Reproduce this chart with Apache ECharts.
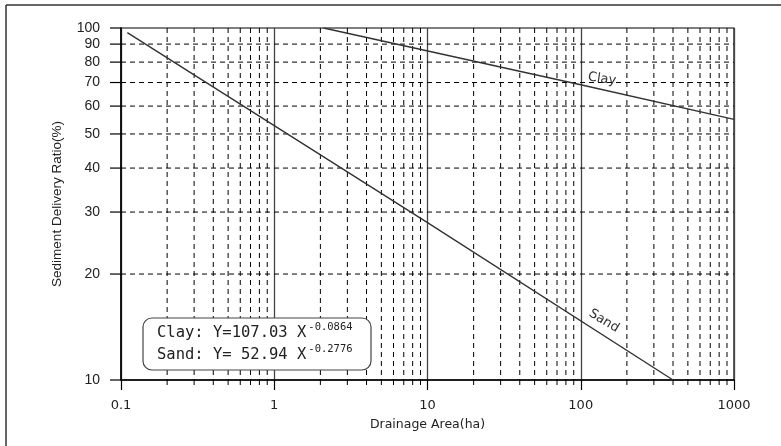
<!DOCTYPE html>
<html>
<head>
<meta charset="utf-8">
<script src="https://cdn.jsdelivr.net/npm/echarts@6/dist/echarts.min.js"></script>
<style>
html,body{margin:0;padding:0;background:#fff;}
#c{width:781px;height:446px;}
</style>
</head>
<body>
<div id="c"></div>
<script>
// ---- data ----
const clayPoints = [[2.1, 100], [100, 69], [1000, 55]];
const sandPoints = [[0.11, 97], [10, 28], [400, 10]];
const xMajorTicks = [0.1, 1, 10, 100, 1000];
const xMinorTicks = [0.2,0.3,0.4,0.5,0.6,0.7,0.8,0.9, 2,3,4,5,6,7,8,9, 20,30,40,50,60,70,80,90, 200,300,400,500,600,700,800,900];
const yTicks = [10, 20, 30, 40, 50, 60, 70, 80, 90, 100];
const xRange = [0.1, 1000];
const yRange = [10, 100];
const xAxisTitle = 'Drainage Area(ha)';
const yAxisTitle = 'Sediment Delivery Ratio(%)';
const clayLabel = 'Clay';
const sandLabel = 'Sand';
const eqClay = ['Clay: Y=107.03 X', '-0.0864'];
const eqSand = ['Sand: Y= 52.94 X', '-0.2776'];

const chart = echarts.init(document.getElementById('c'));

const dash = [5, 4];

function vGridRender(params, api) {
  const v = api.value(0);
  const top = api.coord([v, yRange[1]]);
  const bot = api.coord([v, yRange[0]]);
  return {
    type: 'group',
    children: [
      { type: 'line', shape: { x1: top[0], y1: top[1], x2: bot[0], y2: bot[1] },
        style: { stroke: '#000', lineWidth: 1, lineDash: dash } },
      { type: 'line', shape: { x1: bot[0], y1: bot[1], x2: bot[0], y2: bot[1] + 5 },
        style: { stroke: '#000', lineWidth: 1 } }
    ]
  };
}

function hGridRender(params, api) {
  const v = api.value(1);
  const l = api.coord([xRange[0], v]);
  const r = api.coord([xRange[1], v]);
  const children = [
    { type: 'line', shape: { x1: l[0] - 11, y1: l[1], x2: l[0], y2: l[1] },
      style: { stroke: '#000', lineWidth: 1.2 } },
    { type: 'text', x: l[0] - 21, y: l[1],
      style: { text: String(v), align: 'right', verticalAlign: 'middle',
               font: '14px "Liberation Sans", Arial, sans-serif', fill: '#222' } }
  ];
  if (v !== yRange[0] && v !== yRange[1]) {
    children.unshift({ type: 'line', shape: { x1: l[0], y1: l[1], x2: r[0], y2: r[1] },
      style: { stroke: '#000', lineWidth: 1, lineDash: dash } });
  }
  return { type: 'group', children };
}

chart.setOption({
  animation: false,
  backgroundColor: '#fff',
  grid: { left: 121, right: 47, top: 28, bottom: 66, show: true, borderColor: '#000', borderWidth: 1.2, backgroundColor: 'transparent' },
  xAxis: {
    type: 'log', logBase: 10, min: xRange[0], max: xRange[1],
    name: xAxisTitle, nameLocation: 'middle', nameGap: 38,
    nameTextStyle: { fontFamily: 'DejaVu Sans', fontSize: 12.5, color: '#222' },
    axisLine: { lineStyle: { color: '#000', width: 1.5 } },
    axisTick: { show: true, length: 10, lineStyle: { color: '#000', width: 1.2 } },
    axisLabel: { margin: 19, fontFamily: 'DejaVu Sans', fontSize: 13, color: '#222',
      formatter: v => String(+v.toPrecision(6)) },
    splitLine: { show: true, lineStyle: { color: '#444', width: 1.3 } }
  },
  yAxis: {
    type: 'log', logBase: 10, min: yRange[0], max: yRange[1],
    name: yAxisTitle, nameLocation: 'middle', nameGap: 57,
    nameTextStyle: { fontFamily: '"Liberation Sans Narrow", "Liberation Sans", sans-serif', fontSize: 13.5, color: '#222' },
    axisLine: { lineStyle: { color: '#000', width: 1.5 } },
    axisTick: { show: false },
    axisLabel: { show: false },
    splitLine: { show: false }
  },
  series: [
    { type: 'custom', z: 1, silent: true, clip: false,
      data: xMinorTicks.map(v => [v, yRange[0]]), renderItem: vGridRender },
    { type: 'custom', z: 1, silent: true, clip: false,
      data: yTicks.map(v => [xRange[0], v]), renderItem: hGridRender },
    { type: 'line', name: clayLabel, z: 5, data: clayPoints, showSymbol: false,
      lineStyle: { color: '#333', width: 1.4 } },
    { type: 'line', name: sandLabel, z: 5, data: sandPoints, showSymbol: false,
      lineStyle: { color: '#333', width: 1.4 } }
  ],
  graphic: [
    { type: 'line', shape: { x1: 6, y1: 5, x2: 781, y2: 5 }, style: { stroke: '#333', lineWidth: 1.5 } },
    { type: 'line', shape: { x1: 6, y1: 5, x2: 6, y2: 446 }, style: { stroke: '#333', lineWidth: 1.5 } },
    { type: 'text', x: 602, y: 79, rotation: -0.14, z: 10,
      style: { text: clayLabel, align: 'center', verticalAlign: 'middle',
               font: '13px "DejaVu Sans", sans-serif', fill: '#333' } },
    { type: 'text', x: 604, y: 321, rotation: -0.55, z: 10,
      style: { text: sandLabel, align: 'center', verticalAlign: 'middle',
               font: '13px "DejaVu Sans", sans-serif', fill: '#333' } },
    { type: 'rect', z: 10, shape: { x: 143, y: 318, width: 228, height: 52, r: 9 },
      style: { fill: '#fff', stroke: '#444', lineWidth: 1.2 } },
    { type: 'text', z: 11, x: 157, y: 322,
      style: {
        text: eqClay[0] + '{s|' + eqClay[1] + '}\n' + eqSand[0] + '{s|' + eqSand[1] + '}',
        font: '15.5px "DejaVu Sans Mono", monospace', fill: '#222', lineHeight: 22,
        rich: { s: { fontFamily: 'DejaVu Sans Mono', fontSize: 10.5, verticalAlign: 'top', lineHeight: 22, padding: [0,0,6,2], fill: '#222' } }
      } }
  ]
});
</script>
</body>
</html>
